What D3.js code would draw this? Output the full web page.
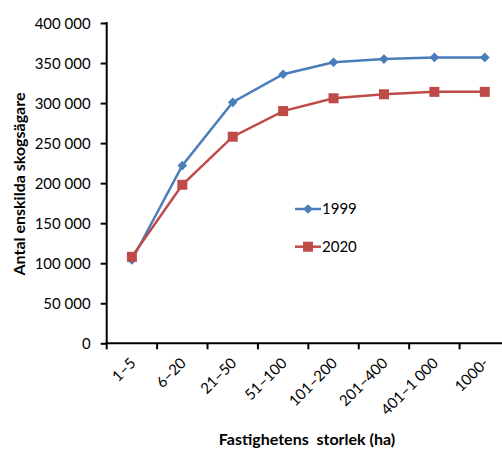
<!DOCTYPE html>
<html>
<head>
<meta charset="utf-8">
<script src="https://cdn.jsdelivr.net/npm/d3@7"></script>
<style>
  body { margin: 0; background: #fff; }
  svg text { font-family: Lato, "Open Sans", sans-serif; fill: #000; }
</style>
</head>
<body>
<div id="chart"></div>
<script>
const categories = ["1–5", "6–20", "21–50", "51–100", "101–200", "201–400", "401–1 000", "1000-"];
const values1999 = [104000, 222000, 301000, 336000, 351000, 355000, 357000, 357000];
const values2020 = [108000, 198000, 258000, 290000, 306000, 311000, 314000, 314000];
const yTicks = [0, 50000, 100000, 150000, 200000, 250000, 300000, 350000, 400000];

const width = 502, height = 449;

const svg = d3.select("#chart")
  .append("svg")
  .attr("width", width)
  .attr("height", height);

const xScale = d3.scaleBand()
  .domain(categories)
  .range([106.7, 510]);

const yScale = d3.scaleLinear()
  .domain([0, 400000])
  .range([343.3, 23]);

const fmt = function(v) { return d3.format(",")(v).replace(/,/g, " "); };

// y axis
const yAxis = svg.append("g")
  .attr("transform", "translate(106.7,0)")
  .call(d3.axisLeft(yScale).tickValues(yTicks).tickSize(6).tickPadding(10).tickFormat(fmt));
yAxis.select(".domain").attr("stroke", "#000").attr("stroke-width", 2).attr("d", "M0,22V343.3");
yAxis.selectAll(".tick line").attr("stroke", "#000").attr("stroke-width", 2);
yAxis.selectAll(".tick text").style("font-size", "15px").attr("dy", "0.35em");

// x axis
const xAxis = svg.append("g")
  .attr("transform", "translate(0,343.3)");
xAxis.append("line")
  .attr("x1", 105.7).attr("x2", 510)
  .attr("stroke", "#000").attr("stroke-width", 2);
xAxis.selectAll(".xtick")
  .data(categories.concat(["end"]))
  .enter()
  .append("line")
    .attr("x1", function(d, i) { return i < categories.length ? xScale(d) : xScale.range()[1]; })
    .attr("x2", function(d, i) { return i < categories.length ? xScale(d) : xScale.range()[1]; })
    .attr("y1", 0).attr("y2", 6)
    .attr("stroke", "#000").attr("stroke-width", 2);

xAxis.selectAll(".xlabel")
  .data(categories)
  .enter()
  .append("text")
    .attr("text-anchor", "end")
    .style("font-size", "15px")
    .attr("transform", function(d) {
      let cx = xScale(d) + xScale.bandwidth() / 2 + 1;
      return `translate(${cx},17) rotate(-45)`;
    })
    .attr("dy", "0.35em")
    .text(function(d) { return d; });

const line = d3.line()
  .x(function(d, i) { return xScale(categories[i]) + xScale.bandwidth() / 2; })
  .y(function(d) { return yScale(d); });

const blue = "#4a7ebb", red = "#be4b48";

svg.append("path")
  .datum(values1999)
  .attr("fill", "none").attr("stroke", blue).attr("stroke-width", 2.5)
  .attr("d", line);

svg.selectAll(".d1999")
  .data(values1999)
  .enter()
  .append("path")
    .attr("fill", blue)
    .attr("d", d3.symbol().type(d3.symbolDiamond2).size(60))
    .attr("transform", function(d, i) {
      return `translate(${xScale(categories[i]) + xScale.bandwidth() / 2},${yScale(d)})`;
    });

svg.append("path")
  .datum(values2020)
  .attr("fill", "none").attr("stroke", red).attr("stroke-width", 2.5)
  .attr("d", line);

svg.selectAll(".d2020")
  .data(values2020)
  .enter()
  .append("rect")
    .attr("fill", red)
    .attr("width", 10).attr("height", 10)
    .attr("x", function(d, i) { return xScale(categories[i]) + xScale.bandwidth() / 2 - 5; })
    .attr("y", function(d) { return yScale(d) - 5; });

// legend
const legend = svg.append("g");
const legendItems = [["1999", blue, "diamond", 209], ["2020", red, "square", 246.7]];
legendItems.forEach(function(item) {
  legend.append("line")
    .attr("x1", 295).attr("x2", 321)
    .attr("y1", item[3]).attr("y2", item[3])
    .attr("stroke", item[1]).attr("stroke-width", 2.5);
  if (item[2] == "diamond") {
    legend.append("path")
      .attr("fill", item[1])
      .attr("d", d3.symbol().type(d3.symbolDiamond2).size(60))
      .attr("transform", `translate(308,${item[3]})`);
  } else {
    legend.append("rect")
      .attr("fill", item[1])
      .attr("x", 303).attr("y", item[3] - 5)
      .attr("width", 10).attr("height", 10);
  }
  legend.append("text")
    .attr("x", 322).attr("y", item[3])
    .attr("dy", "0.35em")
    .style("font-size", "15px")
    .text(item[0]);
});

// titles
svg.append("text")
  .attr("transform", "translate(19,184) rotate(-90)")
  .attr("text-anchor", "middle")
  .attr("dy", "0.35em")
  .style("font-size", "16px")
  .style("font-weight", "bold")
  .text("Antal enskilda skogsägare");

svg.append("text")
  .attr("x", 307).attr("y", 445)
  .attr("text-anchor", "middle")
  .style("font-size", "16px")
  .style("font-weight", "bold")
  .style("white-space", "pre")
  .text("Fastighetens  storlek (ha)");
</script>
</body>
</html>
